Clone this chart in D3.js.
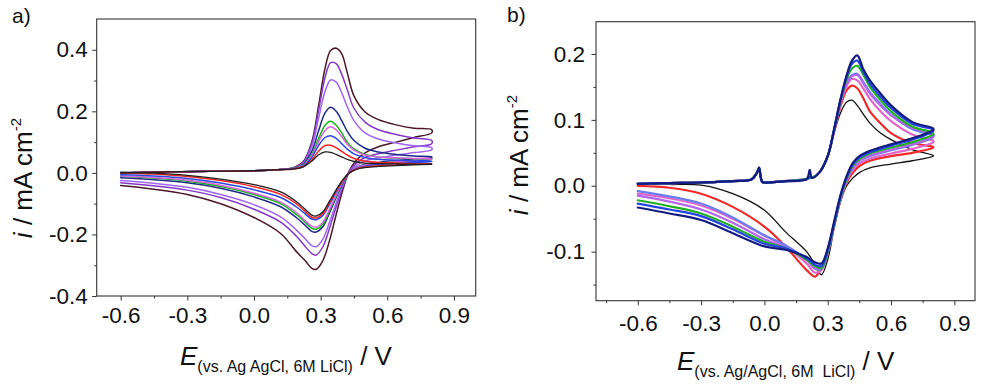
<!DOCTYPE html>
<html>
<head>
<meta charset="utf-8">
<script src="https://cdn.jsdelivr.net/npm/d3@7"></script>
<style>
  html, body { margin: 0; padding: 0; background: #fff; }
  svg { display: block; font-family: "Liberation Sans", Arial, sans-serif; }
</style>
</head>
<body>
<svg id="chart" width="981" height="387"></svg>
<script>
// ---------------- Panel a data ----------------
const aFwdE = [-0.6, -0.4, -0.2, 0.0, 0.1, 0.18, 0.22, 0.26, 0.29, 0.32, 0.345, 0.37, 0.395, 0.42, 0.45, 0.50, 0.56, 0.64, 0.72, 0.80];
const aRevE = [0.80, 0.72, 0.64, 0.56, 0.50, 0.46, 0.43, 0.40, 0.37, 0.34, 0.31, 0.28, 0.26, 0.23, 0.19, 0.12, 0.0, -0.15, -0.3, -0.45, -0.6];

const a1Fwd = [0.0, 0.003, 0.005, 0.007, 0.01, 0.018, 0.035, 0.10, 0.215, 0.34, 0.398, 0.405, 0.387, 0.325, 0.25, 0.198, 0.173, 0.156, 0.145, 0.14];
const a1Rev = [0.13, 0.115, 0.1, 0.085, 0.065, 0.04, 0.008, -0.055, -0.135, -0.22, -0.285, -0.313, -0.31, -0.285, -0.255, -0.197, -0.145, -0.1, -0.07, -0.053, -0.041];
const a2Fwd = [0.0, 0.003, 0.005, 0.007, 0.01, 0.017, 0.033, 0.095, 0.2, 0.31, 0.358, 0.355, 0.32, 0.27, 0.21, 0.165, 0.14, 0.125, 0.113, 0.105];
const a2Rev = [0.095, 0.085, 0.074, 0.062, 0.05, 0.031, 0.006, -0.045, -0.11, -0.18, -0.24, -0.267, -0.262, -0.238, -0.205, -0.16, -0.118, -0.08, -0.056, -0.042, -0.032];
const a3Fwd = [0.0, 0.003, 0.005, 0.007, 0.01, 0.016, 0.03, 0.085, 0.175, 0.265, 0.302, 0.295, 0.26, 0.215, 0.17, 0.13, 0.11, 0.097, 0.088, 0.082];
const a3Rev = [0.075, 0.066, 0.058, 0.048, 0.039, 0.024, 0.004, -0.04, -0.098, -0.16, -0.215, -0.24, -0.236, -0.214, -0.185, -0.143, -0.103, -0.07, -0.047, -0.034, -0.025];
const a4Fwd = [0.0, 0.003, 0.005, 0.007, 0.01, 0.015, 0.027, 0.07, 0.135, 0.195, 0.213, 0.2, 0.17, 0.135, 0.105, 0.08, 0.068, 0.06, 0.055, 0.052];
const a4Rev = [0.05, 0.045, 0.04, 0.034, 0.028, 0.018, 0.002, -0.033, -0.08, -0.13, -0.175, -0.192, -0.19, -0.17, -0.145, -0.11, -0.078, -0.05, -0.032, -0.022, -0.016];
const a5Fwd = [0.0, 0.003, 0.005, 0.007, 0.01, 0.015, 0.025, 0.06, 0.11, 0.155, 0.168, 0.155, 0.13, 0.1, 0.078, 0.06, 0.052, 0.048, 0.046, 0.045];
const a5Rev = [0.044, 0.04, 0.036, 0.031, 0.026, 0.017, 0.002, -0.03, -0.075, -0.123, -0.167, -0.183, -0.18, -0.16, -0.135, -0.1, -0.07, -0.044, -0.027, -0.017, -0.011];
const a6Fwd = [0.0, 0.003, 0.005, 0.007, 0.01, 0.014, 0.024, 0.056, 0.1, 0.138, 0.15, 0.14, 0.118, 0.093, 0.074, 0.058, 0.052, 0.049, 0.047, 0.046];
const a6Rev = [0.044, 0.04, 0.036, 0.031, 0.026, 0.017, 0.002, -0.028, -0.072, -0.118, -0.16, -0.176, -0.173, -0.155, -0.128, -0.095, -0.066, -0.04, -0.024, -0.015, -0.01];
const a7Fwd = [0.0, 0.003, 0.005, 0.007, 0.01, 0.014, 0.022, 0.05, 0.088, 0.115, 0.121, 0.112, 0.095, 0.077, 0.062, 0.05, 0.044, 0.041, 0.039, 0.038];
const a7Rev = [0.037, 0.034, 0.031, 0.027, 0.022, 0.014, 0.001, -0.025, -0.062, -0.102, -0.138, -0.152, -0.15, -0.133, -0.11, -0.08, -0.055, -0.033, -0.018, -0.01, -0.006];
const a8Fwd = [0.0, 0.003, 0.005, 0.007, 0.01, 0.013, 0.02, 0.042, 0.07, 0.089, 0.09, 0.082, 0.07, 0.058, 0.047, 0.038, 0.034, 0.032, 0.03, 0.03];
const a8Rev = [0.03, 0.028, 0.026, 0.023, 0.019, 0.012, 0.0, -0.024, -0.058, -0.097, -0.132, -0.146, -0.144, -0.125, -0.1, -0.07, -0.045, -0.025, -0.012, -0.004, 0.0];
const a9Fwd = [0.0, 0.003, 0.005, 0.007, 0.01, 0.013, 0.019, 0.038, 0.058, 0.068, 0.067, 0.06, 0.052, 0.044, 0.037, 0.032, 0.03, 0.029, 0.028, 0.028];
const a9Rev = [0.028, 0.026, 0.024, 0.021, 0.017, 0.011, 0.0, -0.022, -0.055, -0.092, -0.126, -0.14, -0.137, -0.118, -0.093, -0.062, -0.038, -0.02, -0.008, -0.001, 0.002];
const aColors = ["#4a1828", "#8438c8", "#a064f0", "#1e2a88", "#14b414", "#d862e0", "#2a48e0", "#f02424", "#202020"];
const aWidths = [1.5, 1.5, 1.5, 1.5, 1.5, 1.5, 1.5, 1.5, 1.3];

// ---------------- Panel b data ----------------
const bFwdE = [-0.6, -0.45, -0.3, -0.15, -0.06, -0.035, -0.025, -0.01, 0.02, 0.1, 0.2, 0.215, 0.225, 0.26, 0.3, 0.33, 0.36, 0.39, 0.415, 0.44, 0.47, 0.5, 0.55, 0.6, 0.7, 0.8];
const bRevE = [0.8, 0.7, 0.6, 0.5, 0.45, 0.42, 0.39, 0.36, 0.33, 0.30, 0.27, 0.24, 0.2, 0.1, 0.0, -0.15, -0.3, -0.45, -0.6];

const bBlackFwd = [0.003, 0.004, 0.005, 0.007, 0.01, 0.02, 0.024, 0.006, 0.005, 0.007, 0.01, 0.012, 0.012, 0.02, 0.045, 0.08, 0.11, 0.127, 0.13, 0.122, 0.108, 0.095, 0.08, 0.07, 0.055, 0.046];
const bBlackRev = [0.045, 0.038, 0.033, 0.027, 0.02, 0.012, 0.0, -0.025, -0.065, -0.112, -0.135, -0.12, -0.1, -0.07, -0.037, -0.012, 0.001, 0.002, 0.003];
const bRedFwd = [0.003, 0.004, 0.005, 0.007, 0.01, 0.02, 0.025, 0.006, 0.005, 0.007, 0.01, 0.012, 0.012, 0.02, 0.045, 0.082, 0.12, 0.145, 0.152, 0.148, 0.132, 0.113, 0.095, 0.08, 0.065, 0.059];
const bRedRev = [0.058, 0.05, 0.045, 0.038, 0.03, 0.02, 0.005, -0.022, -0.058, -0.098, -0.125, -0.138, -0.128, -0.092, -0.062, -0.032, -0.012, -0.003, 0.0];
const bPinkFwd = [0.003, 0.004, 0.005, 0.007, 0.01, 0.02, 0.025, 0.006, 0.005, 0.007, 0.01, 0.012, 0.012, 0.02, 0.045, 0.083, 0.124, 0.152, 0.162, 0.16, 0.147, 0.132, 0.113, 0.098, 0.078, 0.068];
const bPinkRev = [0.066, 0.056, 0.049, 0.041, 0.034, 0.025, 0.007, -0.022, -0.062, -0.102, -0.128, -0.132, -0.118, -0.092, -0.076, -0.05, -0.03, -0.019, -0.012];
const bCornFwd = [0.003, 0.004, 0.005, 0.007, 0.01, 0.02, 0.026, 0.006, 0.005, 0.007, 0.01, 0.012, 0.012, 0.02, 0.045, 0.084, 0.126, 0.157, 0.168, 0.17, 0.157, 0.142, 0.124, 0.108, 0.086, 0.076];
const bCornRev = [0.074, 0.062, 0.054, 0.045, 0.038, 0.028, 0.009, -0.021, -0.06, -0.1, -0.126, -0.126, -0.112, -0.09, -0.075, -0.048, -0.027, -0.016, -0.008];
const bVioletFwd = [0.003, 0.004, 0.005, 0.007, 0.01, 0.02, 0.026, 0.006, 0.005, 0.007, 0.01, 0.012, 0.012, 0.02, 0.045, 0.084, 0.125, 0.155, 0.166, 0.168, 0.155, 0.14, 0.122, 0.107, 0.088, 0.078];
const bVioletRev = [0.075, 0.063, 0.055, 0.046, 0.039, 0.029, 0.01, -0.02, -0.06, -0.1, -0.125, -0.125, -0.113, -0.094, -0.081, -0.056, -0.036, -0.024, -0.015];
const bGreenFwd = [0.003, 0.004, 0.005, 0.007, 0.01, 0.02, 0.027, 0.006, 0.005, 0.007, 0.01, 0.012, 0.012, 0.02, 0.045, 0.085, 0.128, 0.162, 0.178, 0.182, 0.168, 0.15, 0.13, 0.113, 0.09, 0.08];
const bGreenRev = [0.078, 0.066, 0.058, 0.049, 0.041, 0.031, 0.011, -0.019, -0.06, -0.1, -0.125, -0.122, -0.112, -0.095, -0.085, -0.062, -0.042, -0.031, -0.022];
const bBlueFwd = [0.003, 0.004, 0.005, 0.007, 0.01, 0.02, 0.027, 0.006, 0.005, 0.007, 0.01, 0.014, 0.012, 0.02, 0.045, 0.085, 0.13, 0.166, 0.185, 0.19, 0.172, 0.155, 0.135, 0.118, 0.094, 0.085];
const bBlueRev = [0.083, 0.07, 0.061, 0.051, 0.043, 0.033, 0.013, -0.017, -0.058, -0.098, -0.122, -0.12, -0.11, -0.095, -0.088, -0.066, -0.046, -0.036, -0.027];
const bNavyFwd = [0.003, 0.004, 0.005, 0.007, 0.01, 0.02, 0.028, 0.006, 0.005, 0.007, 0.01, 0.024, 0.012, 0.02, 0.045, 0.085, 0.13, 0.168, 0.19, 0.198, 0.176, 0.16, 0.14, 0.122, 0.097, 0.087];
const bNavyRev = [0.085, 0.072, 0.063, 0.053, 0.045, 0.035, 0.015, -0.015, -0.055, -0.095, -0.118, -0.116, -0.108, -0.097, -0.092, -0.072, -0.052, -0.042, -0.033];
const bColors = ["#111111", "#f02a2a", "#e066cc", "#6a7cf0", "#b266ee", "#22b022", "#2444e0", "#141c80"];
const bWidths = [1.3, 2.2, 2.2, 2.2, 2.2, 2.2, 2.2, 2.2];

// ticks
const aXTicks = [-0.6, -0.3, 0.0, 0.3, 0.6, 0.9];
const aXMinor = [-0.45, -0.15, 0.15, 0.45, 0.75];
const aYTicks = [-0.4, -0.2, 0.0, 0.2, 0.4];
const aYMinor = [-0.3, -0.1, 0.1, 0.3];
const bXTicks = [-0.6, -0.3, 0.0, 0.3, 0.6, 0.9];
const bXMinor = [-0.75, -0.45, -0.15, 0.15, 0.45, 0.75];
const bYTicks = [-0.1, 0.0, 0.1, 0.2];
const bYMinor = [-0.15, -0.05, 0.05, 0.15];

// ---------------- Drawing ----------------
const svg = d3.select("#chart");
const locale = d3.formatLocale({ decimal: ".", thousands: ",", grouping: [3], currency: ["", ""], minus: "-" });
const fmt = locale.format(".1f");

function loop(fE, fI, rE, rI) {
  const pts = fE.map((e, k) => [e, fI[k]]);
  return pts.concat(rE.map((e, k) => [e, rI[k]]));
}

function panel(cfg) {
  const x = d3.scaleLinear().domain(cfg.xDom).range(cfg.xRange);
  const y = d3.scaleLinear().domain(cfg.yDom).range(cfg.yRange);
  const g = svg.append("g");

  const line = d3.line().x(d => x(d[0])).y(d => y(d[1])).curve(d3.curveCatmullRom.alpha(0.5));
  const clipId = "clip" + cfg.id;
  svg.append("clipPath").attr("id", clipId).append("rect")
    .attr("x", cfg.xRange[0]).attr("y", cfg.yRange[1])
    .attr("width", cfg.xRange[1] - cfg.xRange[0]).attr("height", cfg.yRange[0] - cfg.yRange[1]);
  const pg = g.append("g").attr("clip-path", `url(#${clipId})`);
  cfg.curves.forEach((c, k) => {
    pg.append("path").attr("d", line(c)).attr("fill", "none")
      .attr("stroke", cfg.colors[k]).attr("stroke-width", cfg.widths[k])
      .attr("stroke-linejoin", "round").attr("stroke-linecap", "round");
  });

  // frame
  g.append("rect").attr("x", cfg.xRange[0]).attr("y", cfg.yRange[1])
    .attr("width", cfg.xRange[1] - cfg.xRange[0]).attr("height", cfg.yRange[0] - cfg.yRange[1])
    .attr("fill", "none").attr("stroke", "#333").attr("stroke-width", 1.1);

  const xa = g.append("g").attr("transform", `translate(0,${cfg.yRange[0]})`)
    .call(d3.axisBottom(x).tickValues(cfg.xTicks).tickSize(4.5).tickPadding(cfg.xPad).tickFormat(fmt));
  const xm = g.append("g").attr("transform", `translate(0,${cfg.yRange[0]})`)
    .call(d3.axisBottom(x).tickValues(cfg.xMinor).tickSize(2.5).tickFormat(""));
  const ya = g.append("g").attr("transform", `translate(${cfg.xRange[0]},0)`)
    .call(d3.axisLeft(y).tickValues(cfg.yTicks).tickSize(4.5).tickPadding(cfg.yPad).tickFormat(fmt));
  const ym = g.append("g").attr("transform", `translate(${cfg.xRange[0]},0)`)
    .call(d3.axisLeft(y).tickValues(cfg.yMinor).tickSize(2.5).tickFormat(""));
  [xa, xm, ya, ym].forEach(s => {
    s.select(".domain").remove();
    s.selectAll(".tick line").attr("stroke", "#333");
    s.selectAll("text").attr("font-size", 22.5).attr("fill", "#111")
      .attr("font-family", '"Liberation Sans", Arial, sans-serif');
  });

  // y label
  const yl = g.append("text").attr("transform", `translate(${cfg.yLab[0]},${cfg.yLab[1]}) rotate(-90)`)
    .attr("text-anchor", "middle").attr("font-size", 26).attr("fill", "#111");
  yl.append("tspan").attr("font-style", "italic").text("i");
  yl.append("tspan").text(" / mA cm");
  yl.append("tspan").attr("font-size", 15).attr("dy", -11).text("-2");

  // x label
  const xl = g.append("text").attr("x", cfg.xLab[0]).attr("y", cfg.xLab[1])
    .attr("font-size", 26).attr("fill", "#111").attr("xml:space", "preserve");
  xl.append("tspan").attr("font-style", "italic").text("E");
  xl.append("tspan").attr("font-size", 16).attr("dy", cfg.subDy).text(cfg.sub);
  xl.append("tspan").attr("dy", -cfg.subDy).text(" / V");

  // panel letter
  g.append("text").attr("x", cfg.letter[0]).attr("y", cfg.letter[1])
    .attr("font-size", 21).attr("fill", "#111").text(cfg.letter[2]);
}

panel({
  id: "a",
  xDom: [-0.708, 0.998], xRange: [96.7, 475.7],
  yDom: [-0.4, 0.5], yRange: [296, 19],
  xTicks: aXTicks, xMinor: aXMinor, yTicks: aYTicks, yMinor: aYMinor,
  xPad: 6.5, yPad: 4.5,
  colors: aColors, widths: aWidths,
  curves: [
    loop(aFwdE, a1Fwd, aRevE, a1Rev), loop(aFwdE, a2Fwd, aRevE, a2Rev), loop(aFwdE, a3Fwd, aRevE, a3Rev),
    loop(aFwdE, a4Fwd, aRevE, a4Rev), loop(aFwdE, a5Fwd, aRevE, a5Rev), loop(aFwdE, a6Fwd, aRevE, a6Rev),
    loop(aFwdE, a7Fwd, aRevE, a7Rev), loop(aFwdE, a8Fwd, aRevE, a8Rev), loop(aFwdE, a9Fwd, aRevE, a9Rev)
  ],
  yLab: [32, 178],
  xLab: [180, 365], sub: "(vs. Ag AgCl, 6M LiCl)", subDy: 7,
  letter: [12, 23, "a)"]
});

panel({
  id: "b",
  xDom: [-0.798, 0.998], xRange: [596, 975],
  yDom: [-0.1744, 0.249], yRange: [300.7, 21.7],
  xTicks: bXTicks, xMinor: bXMinor, yTicks: bYTicks, yMinor: bYMinor,
  xPad: 9.5, yPad: 6.5,
  colors: bColors, widths: bWidths,
  curves: [
    loop(bFwdE, bBlackFwd, bRevE, bBlackRev), loop(bFwdE, bRedFwd, bRevE, bRedRev),
    loop(bFwdE, bPinkFwd, bRevE, bPinkRev), loop(bFwdE, bCornFwd, bRevE, bCornRev),
    loop(bFwdE, bVioletFwd, bRevE, bVioletRev), loop(bFwdE, bGreenFwd, bRevE, bGreenRev),
    loop(bFwdE, bBlueFwd, bRevE, bBlueRev), loop(bFwdE, bNavyFwd, bRevE, bNavyRev)
  ],
  yLab: [528, 155],
  xLab: [677, 370], sub: "(vs. Ag/AgCl, 6M  LiCl)", subDy: 7,
  letter: [507, 22, "b)"]
});
</script>
</body>
</html>
